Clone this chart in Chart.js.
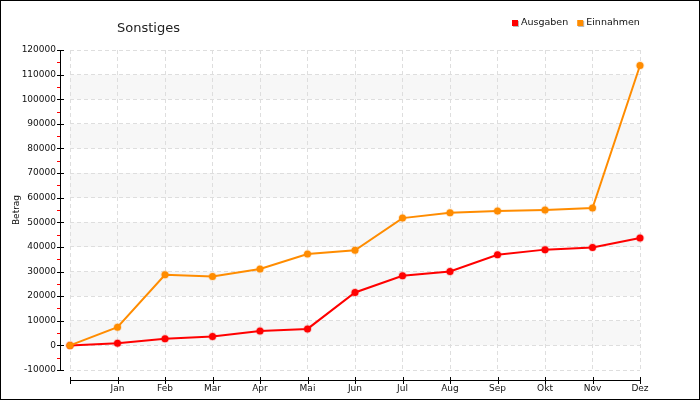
<!DOCTYPE html>
<html>
<head>
<meta charset="utf-8">
<script src="https://cdn.jsdelivr.net/npm/chart.js@4"></script>
<style>
  body { margin: 0; background: #fff; }
  #wrap { width: 700px; height: 400px; }
</style>
</head>
<body>
<div id="wrap"><canvas id="chart" width="700" height="400"></canvas></div>
<script>
// Daten
const monate = ['', 'Jan', 'Feb', 'Mar', 'Apr', 'Mai', 'Jun', 'Jul', 'Aug', 'Sep', 'Okt', 'Nov', 'Dez'];
const ausgaben = [0, 900, 2650, 3600, 5800, 6700, 21500, 28300, 30000, 36800, 38900, 39800, 43600];
const einnahmen = [0, 7400, 28700, 28000, 31000, 37100, 38600, 51700, 53900, 54600, 55000, 55800, 113700];
const serienNamen = ['Ausgaben', 'Einnahmen'];
const serienFarben = ['#ff0000', '#ff8c00'];
const yMin = -10000;
const yMax = 120000;
const yStep = 10000;
const titel = 'Sonstiges';
const yTitel = 'Betrag';

const FONT = 'DejaVu Sans';

// Hintergrund, Streifen, Achsen, Titel und Legende
const deko = {
    id: 'deko',
    beforeDraw: function(chart) {
        const ctx = chart.ctx;
        const a = chart.chartArea;
        const y = chart.scales.y;
        ctx.save();
        ctx.fillStyle = '#fff';
        ctx.fillRect(0, 0, chart.width, chart.height);
        // abwechselnde Streifen
        ctx.fillStyle = '#f7f7f7';
        for (let v = 0; v < yMax - yStep; v += 2 * yStep) {
            const y1 = y.getPixelForValue(v + yStep);
            const y2 = y.getPixelForValue(v);
            ctx.fillRect(a.left, y1, a.right - a.left, y2 - y1);
        }
        ctx.restore();
    },
    afterDraw: function(chart) {
        const ctx = chart.ctx;
        const a = chart.chartArea;
        const x = chart.scales.x;
        const y = chart.scales.y;
        ctx.save();

        // Y-Achse
        const ax = 60.5;
        ctx.strokeStyle = '#000';
        ctx.lineWidth = 1;
        ctx.beginPath();
        ctx.moveTo(ax, y.getPixelForValue(yMax));
        ctx.lineTo(ax, y.getPixelForValue(yMin));
        ctx.stroke();
        y.ticks.forEach(function(t) {
            const py = Math.round(y.getPixelForValue(t.value)) + 0.5;
            ctx.strokeStyle = '#000';
            ctx.beginPath();
            ctx.moveTo(57, py);
            ctx.lineTo(64, py);
            ctx.stroke();
            if (t.value < yMax) {
                const pm = Math.round(y.getPixelForValue(t.value + yStep / 2)) + 0.5;
                ctx.strokeStyle = '#ff0000';
                ctx.beginPath();
                ctx.moveTo(57, pm);
                ctx.lineTo(60, pm);
                ctx.stroke();
            }
        });

        // X-Achse
        const ay = 380.5;
        ctx.strokeStyle = '#000';
        ctx.beginPath();
        ctx.moveTo(a.left, ay);
        ctx.lineTo(a.right, ay);
        ctx.stroke();
        monate.forEach(function(m, i) {
            const px = Math.round(x.getPixelForValue(i)) + 0.5;
            ctx.beginPath();
            ctx.moveTo(px, 377);
            ctx.lineTo(px, 384);
            ctx.stroke();
        });

        // Titel
        ctx.fillStyle = '#222';
        ctx.font = '13px "' + FONT + '"';
        ctx.textBaseline = 'middle';
        ctx.textAlign = 'left';
        ctx.fillText(titel, 117, 29);

        // Legende
        ctx.font = '9.5px "' + FONT + '"';
        let lx = 512;
        serienNamen.forEach(function(name, i) {
            ctx.fillStyle = '#bbb';
            ctx.fillRect(lx + 1, 21, 6, 6);
            ctx.fillStyle = serienFarben[i];
            ctx.fillRect(lx, 20, 6, 6);
            ctx.fillStyle = '#111';
            ctx.fillText(name, lx + 9, 23);
            lx += 9 + ctx.measureText(name).width + 9;
        });

        // Rahmen
        ctx.strokeStyle = '#000';
        ctx.lineWidth = 2;
        ctx.strokeRect(0, 0, chart.width, chart.height);
        ctx.restore();
    }
};

const ctx = document.getElementById('chart').getContext('2d');
const chart = new Chart(ctx, {
    type: 'line',
    data: {
        labels: monate,
        datasets: [{
            label: serienNamen[0],
            data: ausgaben,
            borderColor: serienFarben[0],
            backgroundColor: serienFarben[0],
            pointBackgroundColor: serienFarben[0],
            pointBorderColor: 'rgba(255, 0, 0, 0.18)',
            borderWidth: 2,
            pointRadius: 3.5,
            pointBorderWidth: 2,
            tension: 0,
            order: 2
        }, {
            label: serienNamen[1],
            data: einnahmen,
            borderColor: serienFarben[1],
            backgroundColor: serienFarben[1],
            pointBackgroundColor: serienFarben[1],
            pointBorderColor: 'rgba(255, 140, 0, 0.18)',
            borderWidth: 2,
            pointRadius: 3.5,
            pointBorderWidth: 2,
            tension: 0,
            order: 1
        }]
    },
    options: {
        responsive: false,
        animation: false,
        layout: {
            padding: { top: 50, right: 60, bottom: 0, left: 0 }
        },
        plugins: {
            legend: { display: false },
            title: { display: false },
            tooltip: { enabled: false }
        },
        scales: {
            x: {
                offset: false,
                afterFit: function(scale) { scale.height = 30; },
                grid: {
                    color: '#dedede',
                    drawTicks: false
                },
                border: { display: false, dash: [4, 3] },
                ticks: {
                    autoSkip: false,
                    maxRotation: 0,
                    padding: 13,
                    color: '#111',
                    font: { family: FONT, size: 9 }
                }
            },
            y: {
                min: yMin,
                max: yMax,
                afterFit: function(scale) { scale.width = 70; },
                grid: {
                    color: '#dedede',
                    drawTicks: false
                },
                border: { display: false, dash: [4, 3] },
                ticks: {
                    stepSize: yStep,
                    padding: 14,
                    color: '#111',
                    font: { family: FONT, size: 9 },
                    callback: function(value) { return String(value); }
                },
                title: {
                    display: true,
                    text: yTitel,
                    color: '#111',
                    font: { family: FONT, size: 9 },
                    padding: { top: 11, bottom: 0 }
                }
            }
        }
    },
    plugins: [deko]
});
</script>
</body>
</html>
